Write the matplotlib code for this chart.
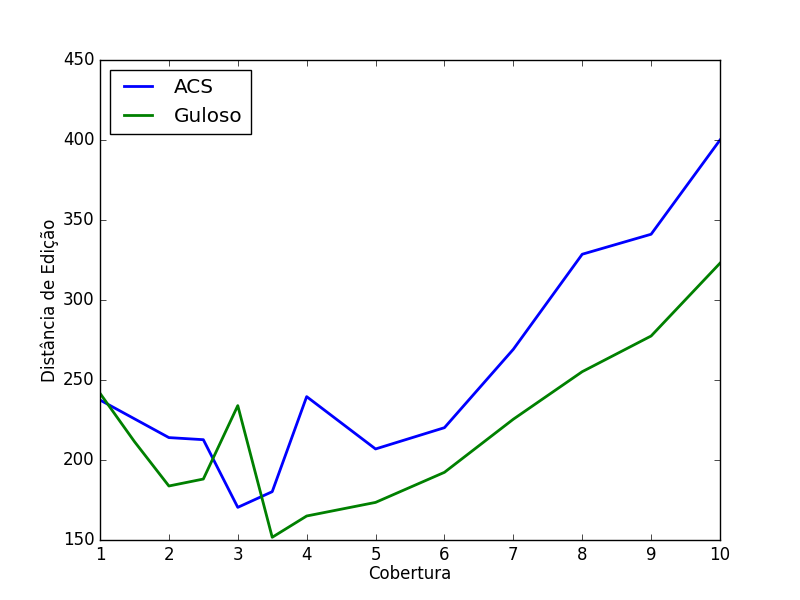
import matplotlib
matplotlib.use('Agg')
import matplotlib.pyplot as plt

acs_x = [1, 2, 2.5, 3, 3.5, 4, 5, 6, 7, 8, 9, 10]
acs_y = [237.5, 214, 212.7, 170.4, 180.2, 239.6, 206.9, 220.2, 269.2, 328.6, 341.1, 400]

guloso_x = [1, 1.5, 2, 2.5, 3, 3.5, 4, 5, 6, 7, 8, 9, 10]
guloso_y = [241.7, 211.5, 183.75, 188.1, 234, 151.7, 165, 173.5, 192.3, 225.5, 255.2, 277.5, 323]

plt.style.use('classic')
fig, ax = plt.subplots(figsize=(8, 6), dpi=100)
fig.patch.set_facecolor('white')

ax.plot(acs_x, acs_y, color='b', lw=2, label='ACS')
ax.plot(guloso_x, guloso_y, color='g', lw=2, label='Guloso')

ax.set_xlim(1, 10)
ax.set_ylim(150, 450)
ax.set_xlabel('Cobertura', labelpad=1)
ax.set_ylabel('Distância de Edição', labelpad=3)
ax.legend(loc='upper left')

plt.savefig('out.png', dpi=100, facecolor='white')
